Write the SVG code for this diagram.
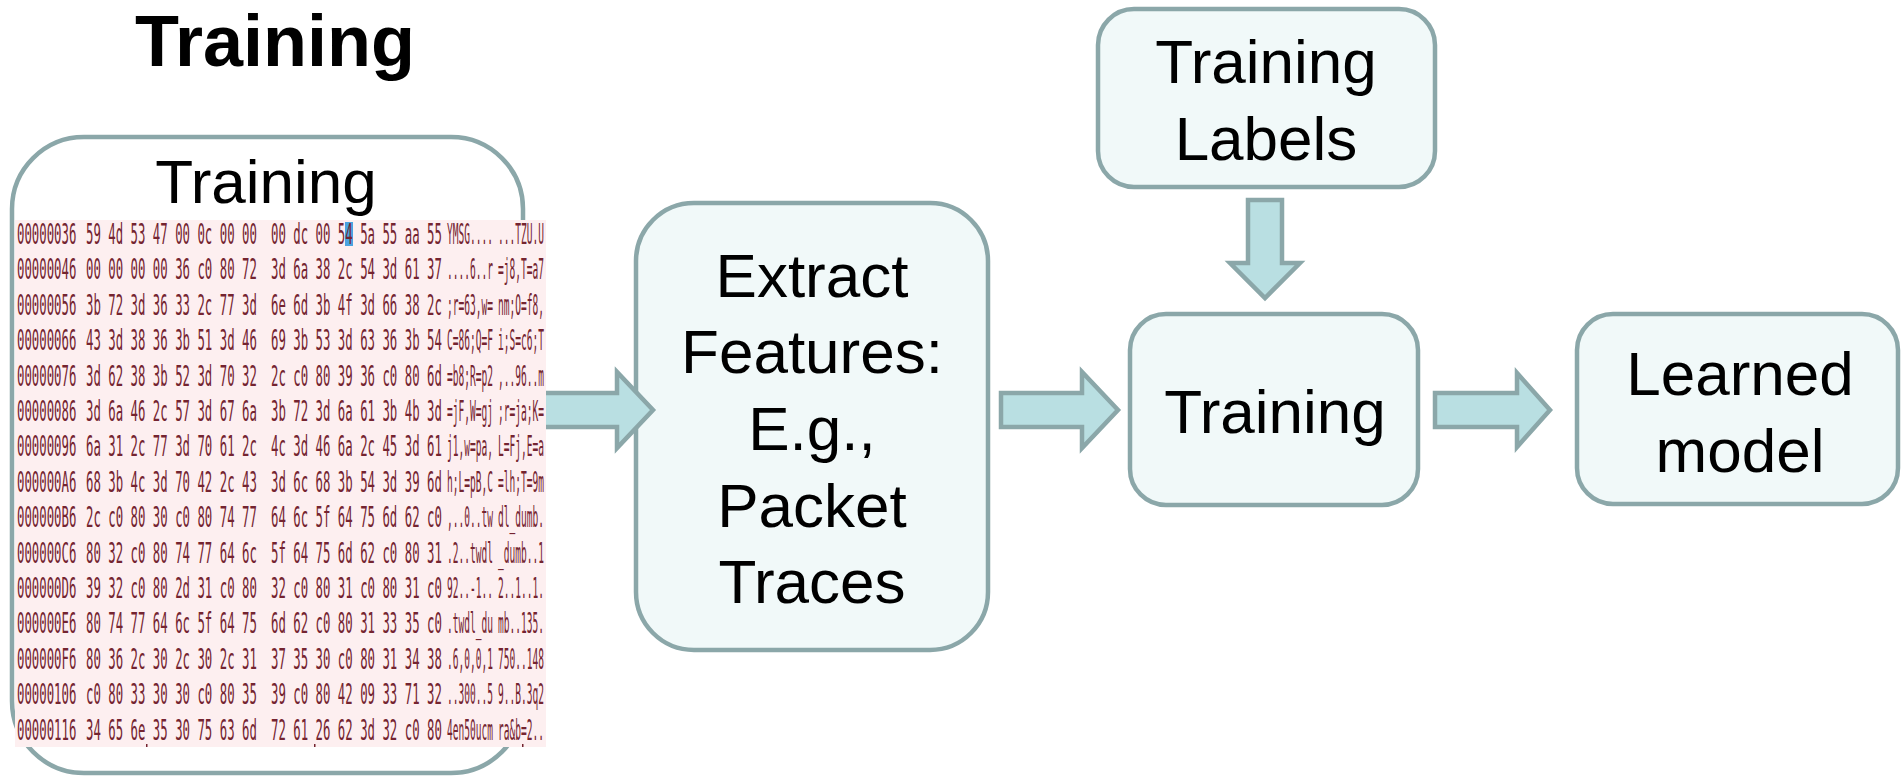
<svg xmlns="http://www.w3.org/2000/svg" width="1903" height="777" viewBox="0 0 1903 777">
  <style>
    .box { fill: #f1f9f9; stroke: #8ba7a9; stroke-width: 4.5; }
    .lbl { font-family: "Liberation Sans", Arial, sans-serif; font-size: 62px; fill: #000; text-anchor: middle; }
    .title { font-family: "Liberation Sans", Arial, sans-serif; font-size: 72px; font-weight: bold; fill: #000; text-anchor: middle; }
    .arrow { fill: #b9dfe2; stroke: #8ba7a9; stroke-width: 4.5; stroke-linejoin: miter; }
    .hex { font-family: "DejaVu Sans Mono", "Liberation Mono", monospace; font-size: 28px; fill: #742430; }
  </style>
  <defs>
    <clipPath id="dumpClip">
      <rect x="15" y="220" width="531" height="527"/>
    </clipPath>
  </defs>
  <rect width="1903" height="777" fill="#ffffff"/>

  <text id="heading" class="title" x="275" y="66">Training</text>

  <g id="extract-features">
    <rect class="box" x="636" y="203" width="352" height="447" rx="58" ry="58"/>
    <text class="lbl" x="812" y="297">Extract</text>
    <text class="lbl" x="812" y="373">Features:</text>
    <text class="lbl" x="812" y="450">E.g.,</text>
    <text class="lbl" x="812" y="527">Packet</text>
    <text class="lbl" x="812" y="603">Traces</text>
  </g>

  <g id="training-labels">
    <rect class="box" x="1098" y="9" width="337" height="178" rx="36" ry="36"/>
    <text class="lbl" x="1266" y="83">Training</text>
    <text class="lbl" x="1266" y="160">Labels</text>
  </g>

  <g id="training-step">
    <rect class="box" x="1130" y="314" width="288" height="191" rx="36" ry="36"/>
    <text class="lbl" x="1275" y="433">Training</text>
  </g>

  <g id="learned-model">
    <rect class="box" x="1577" y="314" width="321" height="190" rx="36" ry="36"/>
    <text class="lbl" x="1740" y="395">Learned</text>
    <text class="lbl" x="1740" y="472">model</text>
  </g>

  <g id="connectors">
    <path class="arrow" d="M538,393 H617 V372 L653,410 L617,448 V427 H538 Z"/>
    <path class="arrow" d="M1001,393 H1082 V372 L1118,410 L1082,448 V427 H1001 Z"/>
    <path class="arrow" d="M1435,393 H1517 V373 L1550,410 L1517,447 V427 H1435 Z"/>
    <path class="arrow" d="M1248,200 V263 H1230 L1265,298 L1300,263 H1282 V200 Z"/>
  </g>

  <g id="training-data">
    <rect class="box" x="12" y="137" width="511" height="636" rx="72" ry="72" style="fill:#ffffff" stroke-width="5"/>
    <text class="lbl" x="266" y="203">Training</text>
    <!-- hex dump of captured packet bytes: offset, two groups of 8 bytes, ASCII view -->
    <rect x="15" y="220" width="531" height="527" fill="#fdeff0"/>
    <rect x="345" y="222" width="8" height="24" fill="#4aa3e0"/>
    <g clip-path="url(#dumpClip)">
      <g class="hex" transform="scale(0.441 1)">
        <text y="244"><tspan x="38.5">00000036</tspan><tspan x="195">59 4d 53 47 00 0c 00 00</tspan><tspan x="614.5">00 dc 00 54 5a 55 aa 55</tspan></text>
        <text y="279.4"><tspan x="38.5">00000046</tspan><tspan x="195">00 00 00 00 36 c0 80 72</tspan><tspan x="614.5">3d 6a 38 2c 54 3d 61 37</tspan></text>
        <text y="314.8"><tspan x="38.5">00000056</tspan><tspan x="195">3b 72 3d 36 33 2c 77 3d</tspan><tspan x="614.5">6e 6d 3b 4f 3d 66 38 2c</tspan></text>
        <text y="350.2"><tspan x="38.5">00000066</tspan><tspan x="195">43 3d 38 36 3b 51 3d 46</tspan><tspan x="614.5">69 3b 53 3d 63 36 3b 54</tspan></text>
        <text y="385.6"><tspan x="38.5">00000076</tspan><tspan x="195">3d 62 38 3b 52 3d 70 32</tspan><tspan x="614.5">2c c0 80 39 36 c0 80 6d</tspan></text>
        <text y="421"><tspan x="38.5">00000086</tspan><tspan x="195">3d 6a 46 2c 57 3d 67 6a</tspan><tspan x="614.5">3b 72 3d 6a 61 3b 4b 3d</tspan></text>
        <text y="456.4"><tspan x="38.5">00000096</tspan><tspan x="195">6a 31 2c 77 3d 70 61 2c</tspan><tspan x="614.5">4c 3d 46 6a 2c 45 3d 61</tspan></text>
        <text y="491.8"><tspan x="38.5">000000A6</tspan><tspan x="195">68 3b 4c 3d 70 42 2c 43</tspan><tspan x="614.5">3d 6c 68 3b 54 3d 39 6d</tspan></text>
        <text y="527.2"><tspan x="38.5">000000B6</tspan><tspan x="195">2c c0 80 30 c0 80 74 77</tspan><tspan x="614.5">64 6c 5f 64 75 6d 62 c0</tspan></text>
        <text y="562.6"><tspan x="38.5">000000C6</tspan><tspan x="195">80 32 c0 80 74 77 64 6c</tspan><tspan x="614.5">5f 64 75 6d 62 c0 80 31</tspan></text>
        <text y="598"><tspan x="38.5">000000D6</tspan><tspan x="195">39 32 c0 80 2d 31 c0 80</tspan><tspan x="614.5">32 c0 80 31 c0 80 31 c0</tspan></text>
        <text y="633.4"><tspan x="38.5">000000E6</tspan><tspan x="195">80 74 77 64 6c 5f 64 75</tspan><tspan x="614.5">6d 62 c0 80 31 33 35 c0</tspan></text>
        <text y="668.8"><tspan x="38.5">000000F6</tspan><tspan x="195">80 36 2c 30 2c 30 2c 31</tspan><tspan x="614.5">37 35 30 c0 80 31 34 38</tspan></text>
        <text y="704.2"><tspan x="38.5">00000106</tspan><tspan x="195">c0 80 33 30 30 c0 80 35</tspan><tspan x="614.5">39 c0 80 42 09 33 71 32</tspan></text>
        <text y="739.6"><tspan x="38.5">00000116</tspan><tspan x="195">34 65 6e 35 30 75 63 6d</tspan><tspan x="614.5">72 61 26 62 3d 32 c0 80</tspan></text>
      </g>
      <g class="hex" transform="scale(0.3411 1)">
        <text y="244"><tspan x="1310.5">YMSG....</tspan><tspan x="1460">...TZU.U</tspan></text>
        <text y="279.4"><tspan x="1310.5">....6..r</tspan><tspan x="1460">=j8,T=a7</tspan></text>
        <text y="314.8"><tspan x="1310.5">;r=63,w=</tspan><tspan x="1460">nm;O=f8,</tspan></text>
        <text y="350.2"><tspan x="1310.5">C=86;Q=F</tspan><tspan x="1460">i;S=c6;T</tspan></text>
        <text y="385.6"><tspan x="1310.5">=b8;R=p2</tspan><tspan x="1460">,..96..m</tspan></text>
        <text y="421"><tspan x="1310.5">=jF,W=gj</tspan><tspan x="1460">;r=ja;K=</tspan></text>
        <text y="456.4"><tspan x="1310.5">j1,w=pa,</tspan><tspan x="1460">L=Fj,E=a</tspan></text>
        <text y="491.8"><tspan x="1310.5">h;L=pB,C</tspan><tspan x="1460">=lh;T=9m</tspan></text>
        <text y="527.2"><tspan x="1310.5">,..0..tw</tspan><tspan x="1460">dl_dumb.</tspan></text>
        <text y="562.6"><tspan x="1310.5">.2..twdl</tspan><tspan x="1460">_dumb..1</tspan></text>
        <text y="598"><tspan x="1310.5">92..-1..</tspan><tspan x="1460">2..1..1.</tspan></text>
        <text y="633.4"><tspan x="1310.5">.twdl_du</tspan><tspan x="1460">mb..135.</tspan></text>
        <text y="668.8"><tspan x="1310.5">.6,0,0,1</tspan><tspan x="1460">750..148</tspan></text>
        <text y="704.2"><tspan x="1310.5">..300..5</tspan><tspan x="1460">9..B.3q2</tspan></text>
        <text y="739.6"><tspan x="1310.5">4en50ucm</tspan><tspan x="1460">ra&amp;b=2..</tspan></text>
      </g>
      <rect x="146" y="744" width="1.5" height="4" fill="#742430"/>
      <rect x="314" y="744" width="1.5" height="4" fill="#742430"/>
      <rect x="522" y="744" width="1.5" height="4" fill="#742430"/>
    </g>
  </g>
</svg>
